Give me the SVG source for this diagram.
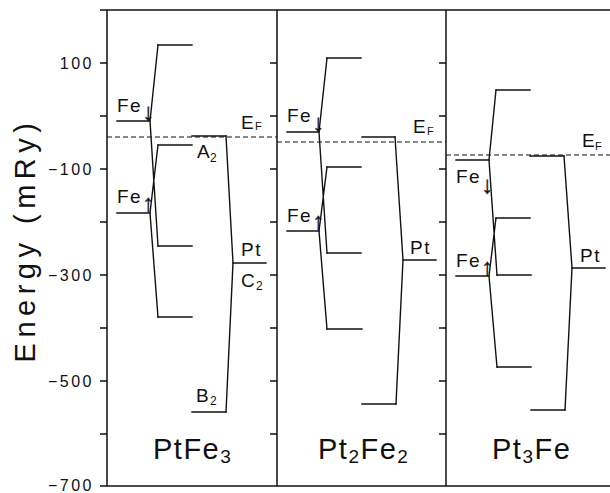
<svg xmlns="http://www.w3.org/2000/svg" width="610" height="493" viewBox="0 0 610 493">
  <style>
    .ln { stroke: #111; stroke-width: 1.4; fill: none; stroke-linecap: square; }
    .fr { stroke: #111; stroke-width: 1.5; fill: none; }
    .ef { stroke: #111; stroke-width: 1.2; fill: none; stroke-dasharray: 5 3; }
    .lb { font-family: "Liberation Sans", Arial, sans-serif; font-size: 19px; fill: #111; letter-spacing: 1.5px; }
    .sb { font-family: "Liberation Sans", Arial, sans-serif; font-size: 12px; fill: #111; }
    .ar { font-size: 24px; stroke: #111; stroke-width: 0.4; letter-spacing: 0; }
    .tk { font-family: "Liberation Sans", Arial, sans-serif; font-size: 16px; fill: #111; letter-spacing: 2.5px; text-anchor: end; }
    .ti { font-family: "Liberation Sans", Arial, sans-serif; font-size: 29px; fill: #111; letter-spacing: 1.5px; }
    .ts { font-size: 19px; }
  </style>

  <!-- frame, panel dividers and ticks -->
  <g id="frame">
    <path class="fr" d="M100,10 H610 M100,486 H610 M107,10 V486 M277,10 V486 M446,10 V486"/>
    <path class="fr" d="M100,63 h7 M100,116 h7 M100,169 h7 M100,222 h7 M100,275 h7 M100,328 h7 M100,381 h7 M100,434 h7"/>
    <path class="fr" d="M270,63 h7 M270,116 h7 M270,169 h7 M270,222 h7 M270,275 h7 M270,328 h7 M270,381 h7 M270,434 h7"/>
    <path class="fr" d="M439,63 h7 M439,116 h7 M439,169 h7 M439,222 h7 M439,275 h7 M439,328 h7 M439,381 h7 M439,434 h7"/>
  </g>

  <g id="axis-labels">
    <text class="tk" x="94" y="69">100</text>
    <text class="tk" x="94" y="175">−100</text>
    <text class="tk" x="94" y="281">−300</text>
    <text class="tk" x="94" y="387">−500</text>
    <text class="tk" x="94" y="491">−700</text>
    <text class="ti" transform="translate(35,240) rotate(-90)" text-anchor="middle" style="letter-spacing:5.5px">Energy (mRy)</text>
  </g>

  <!-- Fermi levels -->
  <g id="fermi">
    <path class="ef" d="M107,137 H277"/>
    <path class="ef" d="M277,142 H446"/>
    <path class="ef" d="M446,155 H610"/>
    <text class="lb" x="241" y="129">E</text><text class="sb" x="255" y="130" style="font-size:11px">F</text>
    <text class="lb" x="413" y="133">E</text><text class="sb" x="427" y="135" style="font-size:11px">F</text>
    <text class="lb" x="582" y="147">E</text><text class="sb" x="595" y="150" style="font-size:11px">F</text>
  </g>

  <!-- PtFe3 -->
  <g id="ptfe3">
    <g id="ptfe3-fe-dn"><path class="ln" d="M117,121 H150"/><text class="lb" x="117" y="112">Fe<tspan class="ar" x="142.5" y="120">↓︎</tspan></text></g>
    <g id="ptfe3-fe-up"><path class="ln" d="M117,213 H150"/><text class="lb" x="117" y="203">Fe<tspan class="ar" x="142.5" y="211">↑︎</tspan></text></g>
    <g id="ptfe3-l1"><path class="ln" d="M158,45 H192"/></g>
    <g id="ptfe3-l2"><path class="ln" d="M158,145 H192"/></g>
    <g id="ptfe3-l3"><path class="ln" d="M158,246 H192"/></g>
    <g id="ptfe3-l4"><path class="ln" d="M158,317 H192"/></g>
    <g id="ptfe3-a2"><path class="ln" d="M192,136 H226"/><text class="lb" x="197" y="158">A</text><text class="sb" x="210" y="162">2</text></g>
    <g id="ptfe3-pt"><path class="ln" d="M233,263 H266"/><text class="lb" x="241" y="256">Pt</text><text class="lb" x="241" y="287">C</text><text class="sb" x="256" y="290">2</text></g>
    <g id="ptfe3-b2"><path class="ln" d="M192,412 H226"/><text class="lb" x="196" y="402">B</text><text class="sb" x="210" y="405">2</text></g>
    <text class="ti" x="153" y="459">PtFe<tspan class="ts" dy="4">3</tspan></text>
  </g>

  <!-- Pt2Fe2 -->
  <g id="pt2fe2">
    <g id="pt2fe2-fe-dn"><path class="ln" d="M287,132 H319"/><text class="lb" x="287" y="122">Fe<tspan class="ar" x="312.5" y="131">↓︎</tspan></text></g>
    <g id="pt2fe2-fe-up"><path class="ln" d="M287,231 H319"/><text class="lb" x="287" y="222">Fe<tspan class="ar" x="312.5" y="229">↑︎</tspan></text></g>
    <g id="pt2fe2-l1"><path class="ln" d="M327,58 H361"/></g>
    <g id="pt2fe2-l2"><path class="ln" d="M327,167 H361"/></g>
    <g id="pt2fe2-l3"><path class="ln" d="M327,253 H361"/></g>
    <g id="pt2fe2-l4"><path class="ln" d="M327,329 H362"/></g>
    <g id="pt2fe2-top"><path class="ln" d="M362,137 H395"/></g>
    <g id="pt2fe2-pt"><path class="ln" d="M403,260 H436"/><text class="lb" x="410" y="254">Pt</text></g>
    <g id="pt2fe2-bot"><path class="ln" d="M362,404 H396"/></g>
    <text class="ti" x="318" y="459">Pt<tspan class="ts" dy="4">2</tspan><tspan dy="-4">Fe</tspan><tspan class="ts" dy="4">2</tspan></text>
  </g>

  <!-- Pt3Fe -->
  <g id="pt3fe">
    <g id="pt3fe-fe-dn"><path class="ln" d="M456,160 H489"/><text class="lb" x="456" y="183">Fe<tspan class="ar" x="481.5" y="193">↓︎</tspan></text></g>
    <g id="pt3fe-fe-up"><path class="ln" d="M456,276 H489"/><text class="lb" x="456" y="267">Fe<tspan class="ar" x="481.5" y="275">↑︎</tspan></text></g>
    <g id="pt3fe-l1"><path class="ln" d="M496,90 H530"/></g>
    <g id="pt3fe-l2"><path class="ln" d="M496,218 H530"/></g>
    <g id="pt3fe-l3"><path class="ln" d="M497,275 H531"/></g>
    <g id="pt3fe-l4"><path class="ln" d="M497,367 H531"/></g>
    <g id="pt3fe-top"><path class="ln" d="M530,156 H564"/></g>
    <g id="pt3fe-pt"><path class="ln" d="M572,268 H605"/><text class="lb" x="580" y="262">Pt</text></g>
    <g id="pt3fe-bot"><path class="ln" d="M531,410 H565"/></g>
    <text class="ti" x="492" y="459">Pt<tspan class="ts" dy="4">3</tspan><tspan dy="-4">Fe</tspan></text>
  </g>

  <!-- correlation lines between atomic and cluster levels -->
  <g id="connectors">
    <path class="ln" d="M150,121 L158,45 M150,121 L158,246 M150,213 L158,145 M150,213 L158,317 M226,136 L233,263 L226,412"/>
    <path class="ln" d="M319,132 L327,58 M319,132 L327,253 M319,231 L327,167 M319,231 L327,329 M395,137 L403,260 L396,404"/>
    <path class="ln" d="M489,160 L496,90 M489,160 L497,275 M489,276 L496,218 M489,276 L497,367 M564,156 L572,268 L565,410"/>
  </g>
</svg>
